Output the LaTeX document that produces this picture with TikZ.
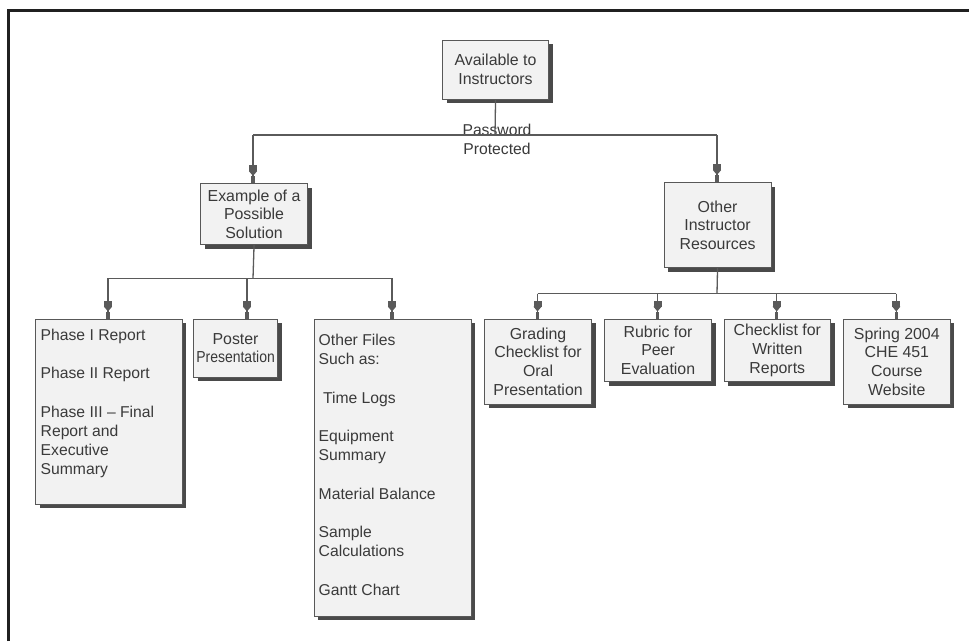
\documentclass[tikz,border=0pt]{standalone}
\usepackage{fontspec}
\setmainfont{Liberation Sans}
\usetikzlibrary{shadows,arrows.meta}
\definecolor{txtc}{HTML}{3A3A3A}
\definecolor{boxfill}{HTML}{F2F2F2}
\definecolor{boxline}{HTML}{585858}
\definecolor{shadowc}{HTML}{4A4A4A}
\definecolor{linec}{HTML}{5A5A5A}
\definecolor{framec}{HTML}{202020}
\tikzset{
  box/.style={draw=boxline, fill=boxfill, line width=1.1pt, inner sep=0pt,
    anchor=north west, text=txtc, align=center,
    font=\fontsize{15.9}{18.6}\selectfont,
    drop shadow={shadow xshift=4pt, shadow yshift=-4pt, fill=shadowc, opacity=1}},
  lefttext/.style={inner sep=0pt, anchor=north west, text=txtc, align=left,
    font=\fontsize{15.7}{19.2}\selectfont},
  conn/.style={draw=linec, line width=1.3pt},
  arr/.style={conn, -{Rectangle[width=8pt,length=6pt,sep=0pt]Triangle[width=8pt,length=5pt,sep=0pt]Rectangle[width=3.5pt,length=7pt,sep=0pt]}, fill=linec}
}
\begin{document}
\begin{tikzpicture}[x=1pt,y=-1pt]
\useasboundingbox (0,0) rectangle (969,641);
\fill[white] (0,0) rectangle (969,641);
% frame
\draw[line width=3pt, framec] (8.5,641) -- (8.5,10.5) -- (969,10.5);

% boxes
\node[box, minimum width=106pt, minimum height=59pt] (top) at (442,39.5) {Available to\\Instructors};
\node[box, minimum width=107pt, minimum height=61pt] (ex) at (200,183) {Example of a\\Possible\\Solution};
\node[box, minimum width=107pt, minimum height=85pt] (oir) at (663.5,182) {Other\\Instructor\\Resources};
\node[box, minimum width=146.5pt, minimum height=185pt] (phase) at (35,318.5) {};
\node[box, minimum width=84pt, minimum height=58pt] (poster) at (193,318.5) {Poster\\\scalebox{0.88}[1]{Presentation}};
\node[box, minimum width=157pt, minimum height=297pt] (files) at (313.5,318.5) {};
\node[box, minimum width=107pt, minimum height=85pt] (grading) at (484,318.5) {Grading\\Checklist for\\Oral\\Presentation};
\node[box, minimum width=107pt, minimum height=62.5pt] (rubric) at (604,318.5) {Rubric for\\Peer\\Evaluation};
\node[box, minimum width=106.5pt, minimum height=62.5pt] (check) at (723.5,318.5) {Checklist for\\Written\\Reports};
\node[box, minimum width=106.5pt, minimum height=85pt] (spring) at (843,318.5) {Spring 2004\\CHE 451\\Course\\Website};

% left-aligned texts
\node[lefttext] (phaset) at (40.5,329) {Phase I Report\\[19.2pt]Phase II Report\\[19.2pt]Phase III -- Final\\Report and\\Executive\\Summary};
\node[lefttext] (filest) at (318.5,334) {Other Files\\Such as:\\[19.2pt]\ Time Logs\\[19.2pt]Equipment\\Summary\\[19.2pt]Material Balance\\[19.2pt]Sample\\Calculations\\[19.2pt]Gantt Chart};

% password label
\node[inner sep=0pt, text=txtc, align=center, font=\fontsize{15.7}{19}\selectfont] (pw) at (497,139.5) {Password\\Protected};

% connectors level 1
\coordinate (j1) at (495,135);
\coordinate (l1) at (253,135);
\coordinate (r1) at (717,135);
\draw[conn] (top.south) -- (j1);
\draw[conn] (l1) -- (r1);
\draw[arr] (l1) -- (l1 |- ex.north);
\draw[arr] (r1) -- (r1 |- oir.north);

% connectors under Example
\coordinate (j2) at (253,278.3);
\coordinate (a1) at (108,278.3);
\coordinate (a2) at (247,278.3);
\coordinate (a3) at (392,278.3);
\draw[conn] (ex.south) -- (j2);
\draw[conn] (a1) -- (a3);
\draw[arr] (a1) -- (a1 |- phase.north);
\draw[arr] (a2) -- (a2 |- poster.north);
\draw[arr] (a3) -- (a3 |- files.north);

% connectors under Other Instructor Resources
\coordinate (j3) at (717,293.5);
\coordinate (b1) at (537.5,293.5);
\coordinate (b2) at (657.5,293.5);
\coordinate (b3) at (776.7,293.5);
\coordinate (b4) at (896.3,293.5);
\draw[conn] (oir.south) -- (j3);
\draw[conn] (b1) -- (b4);
\draw[arr] (b1) -- (b1 |- grading.north);
\draw[arr] (b2) -- (b2 |- rubric.north);
\draw[arr] (b3) -- (b3 |- check.north);
\draw[arr] (b4) -- (b4 |- spring.north);
\end{tikzpicture}
\end{document}
